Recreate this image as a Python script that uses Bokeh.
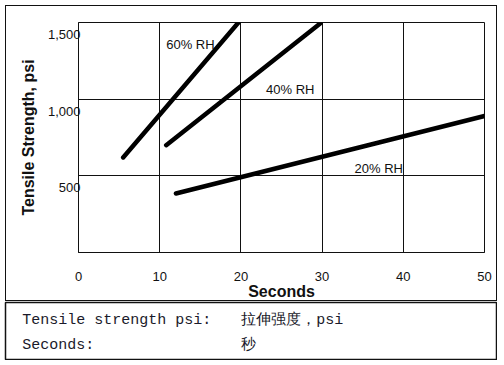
from bokeh.plotting import figure
from bokeh.models import ColumnDataSource, FixedTicker, Range1d, LinearAxis
from bokeh.embed import file_html
from bokeh.resources import INLINE
from bokeh.core.properties import value

# ---- data ----
series_names = ["60% RH", "40% RH", "20% RH"]
seconds_60 = [5.5, 19.7]
psi_60 = [620, 1500]
seconds_40 = [10.8, 29.8]
psi_40 = [700, 1495]
seconds_20 = [12.0, 50.0]
psi_20 = [385, 890]
label_seconds = [10.8, 23.1, 34.0]
label_psi = [1357, 1065, 545]
x_ticks = [0, 10, 20, 30, 40, 50]
y_ticks = [500, 1000, 1500]
y_tick_labels = ["500", "1,000", "1,500"]
note_terms = ["Tensile strength psi:", "Seconds:"]
note_translations = ["拉伸强度，psi", "秒"]
note_rows = [0.68, 0.25]

FONT = "Liberation Sans"
INK = "#111111"

p = figure(width=492, height=296, x_range=(0, 50), y_range=(0, 1500),
           output_backend="svg", toolbar_location=None,
           x_axis_location=None, y_axis_location=None,
           min_border_left=72, min_border_right=14,
           min_border_top=16, min_border_bottom=45,
           background_fill_color="white", border_fill_color="white")
p.outline_line_color = INK
p.outline_line_width = 1
p.styles = {"border": "1.5px solid #111", "margin-left": "5px", "margin-top": "5px"}

# in the reference the y tick labels sit a little below their gridlines
p.extra_y_ranges = {"ylab": Range1d(78, 1578)}

# grid
p.xgrid.ticker = FixedTicker(ticks=x_ticks[1:])
p.ygrid.ticker = FixedTicker(ticks=y_ticks)
for g in (p.xgrid, p.ygrid):
    g.grid_line_color = INK
    g.grid_line_width = 1
    g.grid_line_alpha = 1

xax = LinearAxis(ticker=FixedTicker(ticks=x_ticks))
xax.axis_line_color = INK
xax.major_tick_out = 0
xax.major_tick_in = 0
xax.minor_tick_line_color = None
xax.major_label_standoff = 19
xax.major_label_text_align = "left"
xax.major_label_text_font = FONT
xax.major_label_text_font_size = "13px"
xax.major_label_text_color = INK
xax.axis_label = "Seconds"
xax.axis_label_text_font = FONT
xax.axis_label_text_font_style = "bold"
xax.axis_label_text_font_size = "16px"
xax.axis_label_text_color = INK
xax.axis_label_standoff = -1
p.add_layout(xax, "below")

yax = LinearAxis(y_range_name="ylab", ticker=FixedTicker(ticks=y_ticks),
                 major_label_overrides=dict(zip(y_ticks, y_tick_labels)))
yax.axis_line_color = INK
yax.major_tick_out = 0
yax.major_tick_in = 0
yax.minor_tick_line_color = None
yax.major_label_standoff = -2
yax.major_label_text_font = FONT
yax.major_label_text_font_size = "13px"
yax.major_label_text_color = INK
yax.axis_label = "Tensile Strength, psi"
yax.axis_label_text_font = FONT
yax.axis_label_text_font_style = "bold"
yax.axis_label_text_font_size = "16px"
yax.axis_label_text_color = INK
yax.axis_label_standoff = 8
p.add_layout(yax, "left")

# series
for xs, ys in ((seconds_60, psi_60), (seconds_40, psi_40), (seconds_20, psi_20)):
    p.line(xs, ys, line_color="black", line_width=4.5, line_cap="round")

src = ColumnDataSource(dict(x=label_seconds, y=label_psi, text=series_names))
p.text(x="x", y="y", text="text", source=src, text_align="left",
       text_baseline="middle", text_font=value(FONT), text_font_size="13px",
       text_color=INK)

# note box
n = figure(width=493, height=59, x_range=(0, 1), y_range=(0, 1),
           output_backend="svg", toolbar_location=None,
           min_border=1, background_fill_color="white",
           border_fill_color="white")
n.axis.visible = False
n.grid.visible = False
n.outline_line_color = INK
n.outline_line_width = 1.5
n.styles = {"margin-left": "4px"}

nsrc = ColumnDataSource(dict(y=note_rows, term=note_terms, tr=note_translations))
n.text(x=0.034, y="y", text="term", source=nsrc, text_align="left",
       text_baseline="middle", text_font=value("Liberation Mono"),
       text_font_size="15px", text_color="#1a1a2a")
n.text(x=0.480, y="y", text="tr", source=nsrc, text_align="left",
       text_baseline="middle", text_font=value("Liberation Mono"),
       text_font_size="15px", text_color="#1a1a2a")

open("out.html", "w").write(file_html([p, n], INLINE))
